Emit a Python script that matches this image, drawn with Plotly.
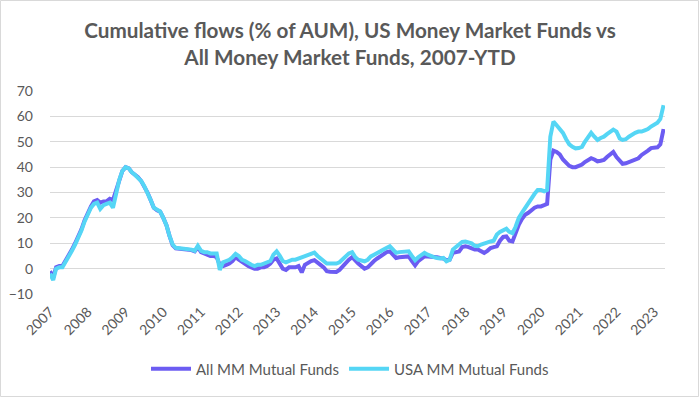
import plotly.graph_objects as go
import pandas as pd

# Monthly readings, Jan 2007 .. Apr 2023 (% of AUM)
usa_2007 = [-2, -4.5, 0, 0.5, 0.5, 2.5, 4.5, 7, 9.5, 12, 15, 18.5]
usa_2008 = [21.5, 24, 25.5, 26, 23.5, 25, 25.5, 26, 24, 30, 35, 38.5]
usa_2009 = [40, 39.5, 38, 37, 36, 34.5, 32.5, 30, 27, 24, 23, 22.5]
usa_2010 = [20, 17, 13, 9.5, 8.2, 8, 8, 8, 7.5, 7.5, 7, 9]
usa_2011 = [7, 6.5, 6.5, 6, 6, 6, -0.5, 2.5, 3, 3.5, 4.5, 5.8]
usa_2012 = [5, 3.5, 3, 2, 1.5, 1, 1.5, 1.5, 2, 2.5, 3, 5.5]
usa_2013 = [6.8, 5, 3, 2.5, 3, 3.5, 3.5, 4, 4.5, 5, 5.5, 6]
usa_2014 = [6.3, 5, 4, 3, 2, 2, 2, 2, 2.5, 3.5, 5, 6]
usa_2015 = [6.5, 4.5, 3.5, 3, 2.9, 3.5, 4.8, 5.5, 6, 6.8, 7.5, 8]
usa_2016 = [8.8, 7.5, 6.2, 6.5, 6.5, 6.8, 6.8, 5, 3.3, 4.5, 5.5, 6.2]
usa_2017 = [5.5, 4.8, 4.5, 4.2, 4, 4.2, 2.9, 3.5, 7.5, 8.5, 9.4, 10.5]
usa_2018 = [10.7, 10.3, 10, 9, 8.8, 9.5, 10, 10.3, 10.7, 11, 13.4, 14.5]
usa_2019 = [15.3, 15.7, 14.5, 14, 16.5, 20, 22, 24, 26, 27.8, 29.5, 31]
usa_2020 = [31, 30.5, 31, 52, 57.9, 56.5, 55, 53.5, 51, 49, 48, 47.4]
usa_2021 = [47.5, 48, 50, 51.5, 53.5, 52, 50.7, 51.5, 52, 53, 54, 54.8]
usa_2022 = [54, 51.3, 50.7, 51, 52, 53, 53.5, 54, 54, 54.5, 55, 56]
usa_2023 = [57, 57.5, 59, 64.4]

all_2007 = [-1, -3.5, 0.5, 1, 1, 3, 5, 7.5, 10, 12.5, 15.5, 19]
all_2008 = [22, 24.5, 26.5, 27, 26, 26.5, 26.5, 27.5, 27, 30.5, 35, 38.5]
all_2009 = [40, 39.5, 38, 37, 36, 34.5, 32.5, 30, 27, 24, 23, 22.5]
all_2010 = [20, 17, 13, 9.2, 8, 7.8, 7.8, 7.8, 7.3, 7.3, 6.8, 8.5]
all_2011 = [6.5, 6, 5.5, 5, 5, 4.5, 1.5, 1, 1.5, 2, 3, 4.5]
all_2012 = [3.5, 2.5, 2, 1, 0.5, 0, 0, 0.5, 0.5, 1, 2, 3.5]
all_2013 = [4, 2, 0, -0.5, 0.5, 0.5, 0.5, 1, -1.5, 1.5, 2.5, 3]
all_2014 = [3.3, 2.5, 1.5, 0.5, -1, -1.2, -1.3, -1.3, -0.5, 1, 2.5, 3.5]
all_2015 = [4.5, 3, 2, 1, 0, 0.5, 2, 3, 4, 4.8, 5.5, 6.5]
all_2016 = [6.8, 5.5, 4.2, 4.5, 4.5, 4.8, 4.8, 3, 1.3, 3, 4, 4.8]
all_2017 = [4.8, 4.8, 4.8, 4.5, 4.2, 4, 3.3, 3.5, 6.2, 6.5, 6.8, 8.5]
all_2018 = [8.8, 8.5, 8.1, 7.5, 7.5, 7, 6.2, 7, 8.1, 8.5, 8.8, 11]
all_2019 = [12.5, 12.7, 11, 10.7, 14, 17.3, 19.5, 21.2, 22, 23.2, 24, 24.5]
all_2020 = [24.5, 25, 25.5, 43, 46.5, 46, 45, 43, 41.5, 40.5, 40, 40]
all_2021 = [40.5, 41, 42, 43, 43.5, 43, 42.3, 42.5, 42.8, 44, 45, 46]
all_2022 = [44, 42.8, 41.3, 41.5, 42, 42.8, 43, 43.5, 44.8, 45.5, 46.5, 47.5]
all_2023 = [47.5, 47.8, 49, 55]

usa_vals = (usa_2007 + usa_2008 + usa_2009 + usa_2010 + usa_2011 + usa_2012 + usa_2013 + usa_2014
            + usa_2015 + usa_2016 + usa_2017 + usa_2018 + usa_2019 + usa_2020 + usa_2021 + usa_2022 + usa_2023)
all_vals = (all_2007 + all_2008 + all_2009 + all_2010 + all_2011 + all_2012 + all_2013 + all_2014
            + all_2015 + all_2016 + all_2017 + all_2018 + all_2019 + all_2020 + all_2021 + all_2022 + all_2023)

dates = pd.date_range("2007-01-01", periods=len(usa_vals), freq="MS")
year_ticks = [f"{y}-01-01" for y in range(2007, 2024)]
year_labels = [str(y) for y in range(2007, 2024)]

title_text = "Cumulative flows (% of AUM), US Money Market Funds vs<br>All Money Market Funds, 2007-YTD"
name_all = "All MM Mutual Funds"
name_usa = "USA MM Mutual Funds"

c_all = "#6c5cf2"
c_usa = "#55d6f5"
txt = "#595959"

fig = go.Figure()
fig.add_trace(go.Scatter(x=dates, y=all_vals, mode="lines", name=name_all,
                         line=dict(color=c_all, width=4)))
fig.add_trace(go.Scatter(x=dates, y=usa_vals, mode="lines", name=name_usa,
                         line=dict(color=c_usa, width=4)))

L, R, T, B = 50, 35, 91, 103
W, H = 700, 397
pw, ph = W - L - R, H - T - B

fig.update_layout(
    width=W, height=H,
    margin=dict(l=L, r=R, t=T, b=B, autoexpand=False),
    paper_bgcolor="white", plot_bgcolor="white",
    font=dict(family="Lato", color=txt, size=14),
    title=dict(text=title_text, x=0.5, xanchor="center", y=0.905, yanchor="top",
               font=dict(family="Lato", size=20.7, color=txt, weight="bold")),
    showlegend=True,
    legend=dict(orientation="h", x=0.5, xanchor="center", xref="container",
                y=1 - 369 / H, yanchor="middle", yref="container",
                font=dict(size=15, color=txt), itemwidth=40, entrywidthmode="pixels"),
    xaxis=dict(type="date", range=["2007-01-01", "2023-04-15"], tickmode="array",
               tickvals=year_ticks, ticktext=year_labels, tickangle=-45,
               showgrid=False, zeroline=False, showline=False, ticks="",
               ticklabelstandoff=6, automargin=False,
               tickfont=dict(size=14, color=txt)),
    yaxis=dict(range=[-10, 70], dtick=10, tick0=0, showgrid=True, gridcolor="#d9d9d9",
               gridwidth=1, zeroline=False, showline=False, ticks="",
               ticklabelstandoff=16, automargin=False,
               tickfont=dict(size=14, color=txt)),
    shapes=[dict(type="rect", xref="paper", yref="paper",
                 x0=(0.5 - L) / pw, x1=(W - 1.5 - L) / pw,
                 y0=(0.5 - B) / ph, y1=(H - B - 0.5) / ph,
                 line=dict(color="#d9d9d9", width=1), layer="below")],
)

fig.write_html("out.html", config={"displayModeBar": False},
               post_script="document.body.style.margin='0';document.body.style.overflow='hidden';")
